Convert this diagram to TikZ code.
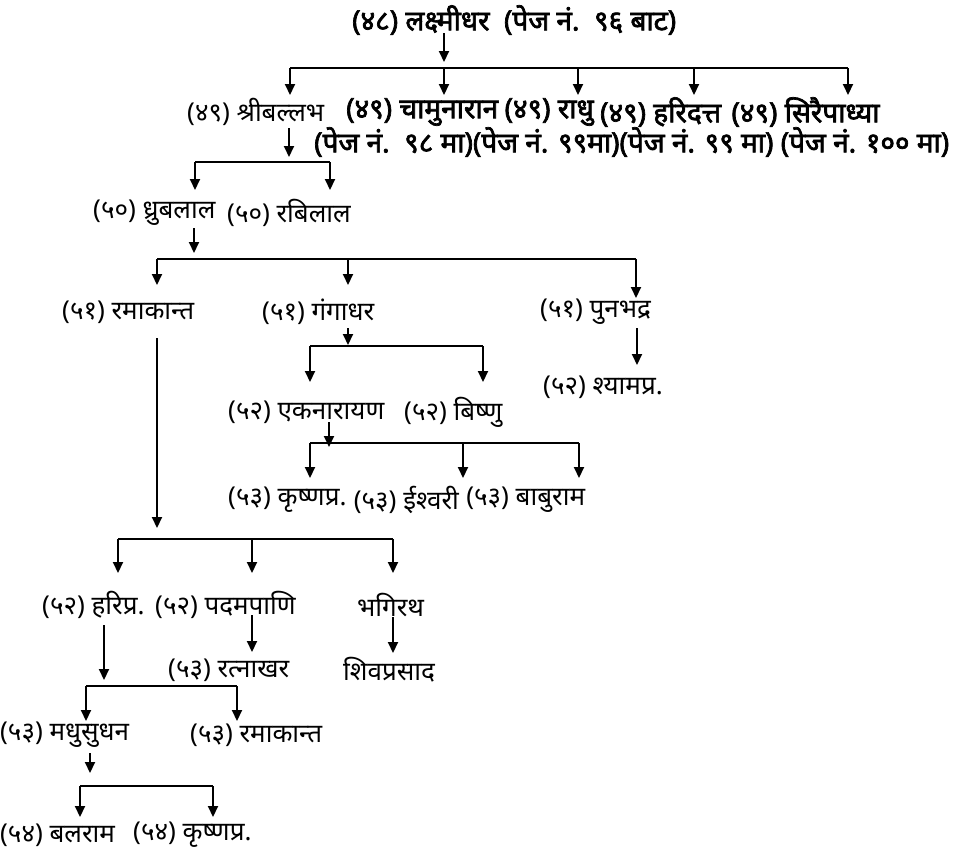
\documentclass[tikz,border=0pt]{standalone}
\usepackage{fontspec}
\newfontfamily\dev[Script=Devanagari]{Noto Sans}
\newfontfamily\devb[Script=Devanagari,FakeBold=2.5]{Noto Sans}
\usetikzlibrary{arrows.meta}
\tikzset{
  lt/.style={anchor=west, inner sep=0pt, font=\dev\fontsize{26}{26}\selectfont},
  bd/.style={anchor=west, inner sep=0pt, font=\devb\fontsize{28}{28}\selectfont},
  ln/.style={line width=2pt},
  arr/.style={line width=2pt, -{Triangle[length=11pt,width=10pt]}},
}
\begin{document}
\begin{tikzpicture}[x=1pt,y=-1pt]
\useasboundingbox (0,0) rectangle (958,855);
% generation 48
\node[bd] (t48) at (352,20) {(४८) लक्ष्मीधर\ \ (पेज नं.\ \ ९६ बाट)};
\coordinate (b1a) at (290,68); \coordinate (b1b) at (848,68);
\coordinate (b1c) at (444,68); \coordinate (b1d) at (578,68); \coordinate (b1e) at (694,68);
\coordinate (a48) at (444,33);
\draw[arr] (a48) -- ++(0,29);
\draw[ln] (b1a) -- (b1b);
% generation 49
\node[lt] (s49a) at (187,112) {(४९) श्रीबल्लभ};
\node[bd] (s49b) at (346,112) {(४९) चामुनारान};
\node[bd] (s49c) at ([xshift=6pt]s49b.east) {(४९) राधु};
\node[bd] (s49d) at ([xshift=6pt]s49c.east) {(४९) हरिदत्त};
\node[bd] (s49e) at ([xshift=10pt]s49d.east) {(४९) सिरैपाध्या};
\node[bd] (pg) at (314,142) {(पेज नं.\ \ ९८ मा)(पेज नं. ९९मा)(पेज नं. ९९ मा) (पेज नं. १०० मा)};
\foreach \c in {b1a,b1b,b1c,b1d,b1e} \draw[arr] (\c) -- ++(0,27);
% to generation 50
\coordinate (a49) at (289,128);
\coordinate (b2a) at (195,162); \coordinate (b2b) at (330,162);
\draw[arr] (a49) -- ++(0,29);
\draw[ln] (b2a) -- (b2b);
\draw[arr] (b2a) -- ++(0,28);
\draw[arr] (b2b) -- ++(0,28);
\node[lt] (s50a) at (93,213) {(५०) ध्रुबलाल};
\node[lt] (s50b) at (227,213) {(५०) रबिलाल};
% to generation 51
\coordinate (a50) at (194,228);
\coordinate (b3a) at (157,259); \coordinate (b3b) at (636,259); \coordinate (b3c) at (348,259);
\draw[arr] (a50) -- ++(0,25);
\draw[ln] (b3a) -- (b3b);
\draw[arr] (b3a) -- ++(0,26);
\draw[arr] (b3c) -- ++(0,26);
\draw[arr] (b3b) -- ++(0,39);
\node[lt] (s51a) at (62,312) {(५१) रमाकान्त};
\node[lt] (s51b) at (262,312) {(५१) गंगाधर};
\node[lt] (s51c) at (540,312) {(५१) पुनभद्र};
% gangadhar's sons
\coordinate (a51b) at (348,328);
\coordinate (b4a) at (310,346); \coordinate (b4b) at (483,346);
\draw[arr] (a51b) -- ++(0,17);
\draw[ln] (b4a) -- (b4b);
\draw[arr] (b4a) -- ++(0,36);
\draw[arr] (b4b) -- ++(0,36);
\node[lt] (s52e) at (228,412) {(५२) एकनारायण};
\node[lt] (s52f) at (404,412) {(५२) बिष्णु};
% punabhadra's son
\coordinate (a51c) at (637,328);
\draw[arr] (a51c) -- ++(0,37);
\node[lt] (s52s) at (543,387) {(५२) श्यामप्र.};
% ekanarayan's sons
\coordinate (a52e) at (329,422);
\coordinate (b5a) at (310,443); \coordinate (b5b) at (579,443); \coordinate (b5c) at (463,443);
\draw[arr] (a52e) -- ++(0,25);
\draw[ln] (b5a) -- (b5b);
\foreach \c in {b5a,b5b,b5c} \draw[arr] (\c) -- ++(0,35);
\node[lt] (s53k) at (228,500) {(५३) कृष्णप्र.};
\node[lt] (s53i) at ([xshift=7pt]s53k.east) {(५३) ईश्वरी};
\node[lt] (s53b) at ([xshift=7pt]s53i.east) {(५३) बाबुराम};
% ramakanta's sons
\coordinate (a51a) at (157,338);
\coordinate (b6a) at (118,539); \coordinate (b6b) at (393,539); \coordinate (b6c) at (252,539);
\draw[arr] (a51a) -- ++(0,190);
\draw[ln] (b6a) -- (b6b);
\foreach \c in {b6a,b6b,b6c} \draw[arr] (\c) -- ++(0,34);
\node[lt] (s52h) at (42,605) {(५२) हरिप्र.};
\node[lt] (s52p) at (155,605) {(५२) पदमपाणि};
\node[lt] (sbh) at (357,605) {भगिरथ};
\coordinate (a52p) at (252,615);
\coordinate (abh) at (393,617);
\draw[arr] (a52p) -- ++(0,37);
\draw[arr] (abh) -- ++(0,36);
\node[lt] (s53r) at (168,670) {(५३) रत्नाखर};
\node[lt] (ssh) at (343,670) {शिवप्रसाद};
% haripra's sons
\coordinate (a52h) at (104,625);
\coordinate (b7a) at (86,686); \coordinate (b7b) at (237,686);
\draw[arr] (a52h) -- ++(0,55);
\draw[ln] (b7a) -- (b7b);
\draw[arr] (b7a) -- ++(0,35);
\draw[arr] (b7b) -- ++(0,35);
\node[lt] (s53m) at (0,735) {(५३) मधुसुधन};
\node[lt] (s53ra) at (190,735) {(५३) रमाकान्त};
% madhusudhan's sons
\coordinate (a53m) at (90,753);
\coordinate (b8a) at (80,786); \coordinate (b8b) at (213,786);
\draw[arr] (a53m) -- ++(0,20);
\draw[ln] (b8a) -- (b8b);
\draw[arr] (b8a) -- ++(0,31);
\draw[arr] (b8b) -- ++(0,31);
\node[lt] (s54b) at (0,835) {(५४) बलराम};
\node[lt] (s54k) at (133,835) {(५४) कृष्णप्र.};
\end{tikzpicture}
\end{document}
